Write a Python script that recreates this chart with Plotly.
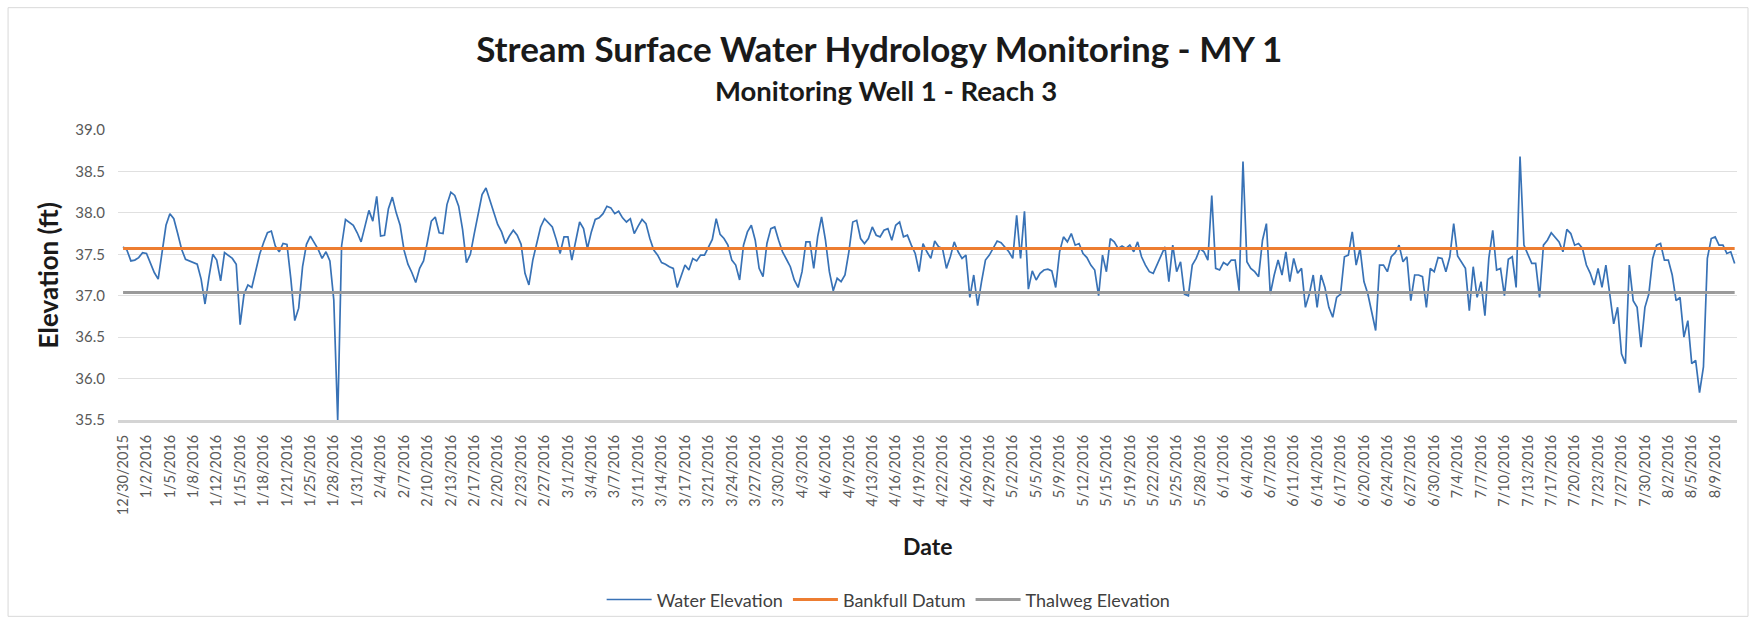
import plotly.graph_objects as go

# ---------------- data ----------------
TICK_LABELS = [
    "12/30/2015", "1/2/2016", "1/5/2016", "1/8/2016", "1/12/2016", "1/15/2016", "1/18/2016",
    "1/21/2016", "1/25/2016", "1/28/2016", "1/31/2016", "2/4/2016", "2/7/2016", "2/10/2016",
    "2/13/2016", "2/17/2016", "2/20/2016", "2/23/2016", "2/27/2016", "3/1/2016", "3/4/2016",
    "3/7/2016", "3/11/2016", "3/14/2016", "3/17/2016", "3/21/2016", "3/24/2016", "3/27/2016",
    "3/30/2016", "4/3/2016", "4/6/2016", "4/9/2016", "4/13/2016", "4/16/2016", "4/19/2016",
    "4/22/2016", "4/26/2016", "4/29/2016", "5/2/2016", "5/5/2016", "5/9/2016", "5/12/2016",
    "5/15/2016", "5/19/2016", "5/22/2016", "5/25/2016", "5/28/2016", "6/1/2016", "6/4/2016",
    "6/7/2016", "6/11/2016", "6/14/2016", "6/17/2016", "6/20/2016", "6/24/2016", "6/27/2016",
    "6/30/2016", "7/4/2016", "7/7/2016", "7/10/2016", "7/13/2016", "7/17/2016", "7/20/2016",
    "7/23/2016", "7/27/2016", "7/30/2016", "8/2/2016", "8/5/2016", "8/9/2016",
]
SAMPLES_PER_LABEL = 6

WATER = [
    37.59, 37.55, 37.42, 37.43, 37.46, 37.52,
    37.51, 37.40, 37.28, 37.20, 37.50, 37.85,
    37.99, 37.93, 37.75, 37.56, 37.44, 37.42,
    37.40, 37.38, 37.20, 36.90, 37.22, 37.50,
    37.43, 37.18, 37.52, 37.49, 37.45, 37.38,
    36.65, 37.02, 37.13, 37.10, 37.30, 37.50,
    37.64, 37.76, 37.78, 37.60, 37.53, 37.63,
    37.62, 37.20, 36.70, 36.85, 37.35, 37.62,
    37.72, 37.64, 37.56, 37.45, 37.53, 37.42,
    36.95, 35.50, 37.60, 37.92, 37.88, 37.85,
    37.76, 37.65, 37.84, 38.03, 37.90, 38.20,
    37.72, 37.73, 38.05, 38.19, 38.00, 37.85,
    37.55, 37.38, 37.28, 37.16, 37.33, 37.42,
    37.65, 37.90, 37.95, 37.76, 37.75, 38.10,
    38.25, 38.21, 38.08, 37.80, 37.40, 37.50,
    37.75, 38.00, 38.22, 38.30, 38.15, 37.98,
    37.86, 37.77, 37.63, 37.72, 37.79, 37.73,
    37.62, 37.27, 37.13, 37.43, 37.65, 37.83,
    37.93, 37.88, 37.83, 37.68, 37.51, 37.71,
    37.71, 37.43, 37.67, 37.89, 37.81, 37.57,
    37.77, 37.92, 37.94, 37.99, 38.08, 38.06,
    37.99, 38.02, 37.94, 37.89, 37.93, 37.75,
    37.84, 37.92, 37.87, 37.69, 37.55, 37.49,
    37.40, 37.38, 37.35, 37.33, 37.10, 37.25,
    37.37, 37.31, 37.45, 37.42, 37.49, 37.49,
    37.59, 37.68, 37.93, 37.74, 37.69, 37.61,
    37.43, 37.37, 37.19, 37.61, 37.77, 37.85,
    37.67, 37.33, 37.23, 37.63, 37.81, 37.83,
    37.67, 37.53, 37.44, 37.35, 37.19, 37.10,
    37.29, 37.65, 37.65, 37.33, 37.71, 37.95,
    37.67, 37.29, 37.06, 37.21, 37.17, 37.25,
    37.53, 37.89, 37.91, 37.69, 37.63, 37.69,
    37.83, 37.73, 37.71, 37.79, 37.81, 37.67,
    37.85, 37.89, 37.71, 37.73, 37.61, 37.51,
    37.29, 37.63, 37.53, 37.45, 37.66, 37.59,
    37.57, 37.33, 37.47, 37.65, 37.53, 37.45,
    37.49, 36.98, 37.25, 36.88, 37.17, 37.43,
    37.49, 37.58, 37.66, 37.64, 37.58, 37.53,
    37.45, 37.97, 37.45, 38.02, 37.08, 37.30,
    37.19, 37.27, 37.31, 37.32, 37.30, 37.10,
    37.53, 37.71, 37.65, 37.75, 37.61, 37.63,
    37.51, 37.46, 37.37, 37.31, 37.00, 37.49,
    37.29, 37.69, 37.65, 37.57, 37.60, 37.57,
    37.61, 37.53, 37.65, 37.47, 37.37, 37.29,
    37.27, 37.37, 37.49, 37.59, 37.17, 37.61,
    37.29, 37.41, 37.02, 37.00, 37.37, 37.45,
    37.57, 37.53, 37.43, 38.21, 37.33, 37.31,
    37.40, 37.37, 37.43, 37.43, 37.06, 38.62,
    37.41, 37.33, 37.29, 37.23, 37.67, 37.87,
    37.02, 37.25, 37.43, 37.25, 37.53, 37.17,
    37.45, 37.27, 37.33, 36.86, 37.02, 37.25,
    36.86, 37.25, 37.10, 36.86, 36.74, 36.98,
    37.02, 37.47, 37.49, 37.77, 37.37, 37.57,
    37.17, 37.02, 36.80, 36.58, 37.37, 37.37,
    37.29, 37.47, 37.52, 37.61, 37.41, 37.47,
    36.94, 37.25, 37.25, 37.23, 36.86, 37.33,
    37.29, 37.46, 37.45, 37.29, 37.47, 37.87,
    37.48, 37.40, 37.33, 36.82, 37.35, 36.98,
    37.17, 36.76, 37.45, 37.79, 37.31, 37.33,
    37.00, 37.44, 37.47, 37.10, 38.68, 37.61,
    37.51, 37.39, 37.39, 36.98, 37.61, 37.67,
    37.76, 37.71, 37.65, 37.53, 37.80, 37.75,
    37.61, 37.63, 37.57, 37.37, 37.27, 37.13,
    37.33, 37.10, 37.37, 37.02, 36.66, 36.86,
    36.30, 36.18, 37.37, 36.94, 36.86, 36.38,
    36.86, 37.02, 37.45, 37.61, 37.63, 37.43,
    37.43, 37.25, 36.94, 36.98, 36.50, 36.70,
    36.18, 36.22, 35.83, 36.14, 37.45, 37.69,
    37.71, 37.61, 37.61, 37.51, 37.53, 37.39,
]
BANKFULL = 37.57
THALWEG = 37.04
Y_TICKS = [35.5, 36.0, 36.5, 37.0, 37.5, 38.0, 38.5, 39.0]

TITLE = "Stream Surface Water Hydrology Monitoring - MY 1"
SUBTITLE = "Monitoring Well 1 - Reach 3"
SERIES_NAMES = ["Water Elevation", "Bankfull Datum", "Thalweg Elevation"]

# ---------------- figure ----------------
FONT = "Lato, Carlito, Calibri, 'Open Sans', sans-serif"
x = list(range(len(WATER)))
tickvals = x[::SAMPLES_PER_LABEL][:len(TICK_LABELS)]

fig = go.Figure()
fig.add_trace(go.Scatter(x=x, y=WATER, mode="lines", name=SERIES_NAMES[0],
                         line=dict(color="#3872b6", width=1.7)))
fig.add_trace(go.Scatter(x=[x[0], x[-1]], y=[BANKFULL, BANKFULL], mode="lines",
                         name=SERIES_NAMES[1], line=dict(color="#ed7d31", width=3)))
fig.add_trace(go.Scatter(x=[x[0], x[-1]], y=[THALWEG, THALWEG], mode="lines",
                         name=SERIES_NAMES[2], line=dict(color="#9a9a9a", width=3)))

fig.update_layout(
    width=1762, height=631, autosize=False,
    margin=dict(l=118, r=25, t=130, b=207),
    paper_bgcolor="white", plot_bgcolor="white",
    font=dict(family=FONT, color="#595959"),
    title=dict(text="<b>" + TITLE + "</b>", x=0.499, xref="container", xanchor="center",
               y=1 - 50 / 631, yref="container", yanchor="middle",
               font=dict(family=FONT, size=35, color="#1a1a1a")),
    showlegend=True,
    legend=dict(orientation="h", x=0.476, xanchor="center", y=-0.62, yanchor="middle",
                itemwidth=45,
                font=dict(family=FONT, size=18, color="#404040"), bgcolor="rgba(0,0,0,0)"),
    xaxis=dict(range=[-1.3, 413.6], tickmode="array", tickvals=tickvals, ticktext=TICK_LABELS,
               tickangle=-90, tickfont=dict(size=14.5, color="#595959"), showgrid=False,
               zeroline=False, showline=True, linecolor="#d4d4d4", linewidth=3, ticks="",
               ticklabelstandoff=6),
    yaxis=dict(range=[35.5, 39.0], tickmode="array", tickvals=Y_TICKS, tickformat=".1f",
               tickfont=dict(size=15, color="#595959"), showgrid=True, gridcolor="#e0e0e0",
               gridwidth=1, zeroline=False, showline=False, ticks="", ticklabelstandoff=12),
    annotations=[
        dict(text="<b>" + SUBTITLE + "</b>", xref="paper", yref="paper", x=0.4744, y=1.136,
             xanchor="center", yanchor="middle", showarrow=False,
             font=dict(family=FONT, size=27.5, color="#1a1a1a")),
        dict(text="<b>Elevation (ft)</b>", xref="paper", yref="paper", x=-0.043, y=0.5,
             xanchor="center", yanchor="middle", textangle=-90, showarrow=False,
             font=dict(family=FONT, size=26, color="#1a1a1a")),
        dict(text="<b>Date</b>", xref="paper", yref="paper", x=0.5, y=-0.435,
             xanchor="center", yanchor="middle", showarrow=False,
             font=dict(family=FONT, size=23, color="#1a1a1a")),
    ],
    shapes=[
        dict(type="rect", xref="paper", yref="paper", x0=-0.0679, x1=1.0068,
             y0=-0.677, y1=1.4218, line=dict(color="#d9d9d9", width=1),
             fillcolor="rgba(0,0,0,0)", layer="below"),
    ],
)

fig.write_html("out.html", config={"displayModeBar": False},
               post_script="document.body.style.margin='0';")
